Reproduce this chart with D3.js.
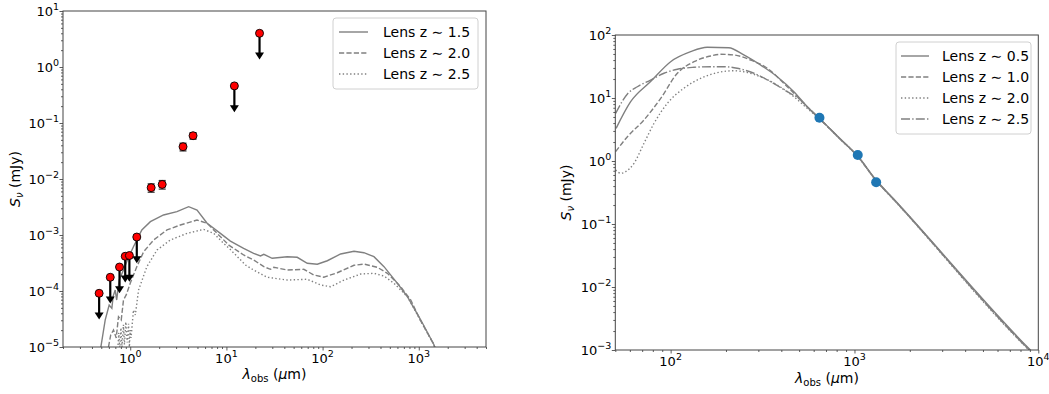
<!DOCTYPE html>
<html>
<head>
<meta charset="utf-8">
<script src="https://cdn.jsdelivr.net/npm/d3@7"></script>
<style>
  body { margin: 0; background: #fff; }
  svg text { font-family: "DejaVu Sans", sans-serif; }
</style>
</head>
<body>
<svg id="chart" width="1049" height="394"></svg>
<script>
// ---------- Left panel: optical/IR SED of the lens candidates + photometry ----------
// model SEDs [wavelength (um), flux (mJy)]
const sedLensZ15 = [
  [0.495,1.0e-5],[0.549,3.03e-5],[0.604,5.6e-5],[0.644,4.9e-5],[0.665,8.1e-5],[0.698,1.04e-4],
  [0.723,6.9e-5],[0.768,1.57e-4],[0.851,2.37e-4],[0.953,3.88e-4],[1.08,6.18e-4],[1.32,1.23e-3],
  [1.62,1.73e-3],[2.22,2.28e-3],[3.06,2.61e-3],[4.05,3.2e-3],[4.95,2.79e-3],[6.3,1.62e-3],
  [8.66,1.07e-3],[11.0,7.8e-4],[15.1,5.78e-4],[19.2,4.71e-4],[22.6,4.22e-4],[24.5,4.52e-4],
  [29.9,3.84e-4],[42.9,4.1e-4],[54.5,4.0e-4],[69.3,3.13e-4],[88.1,3.0e-4],[112,3.47e-4],
  [154,4.58e-4],[212,5.12e-4],[269,4.83e-4],[342,4.1e-4],[435,2.72e-4],[600,1.37e-4],
  [762,7.9e-5],[1050,3.03e-5],[1443,1.09e-5],[1520,8e-6]
];
const sedLensZ20 = [
  [0.594,1.0e-5],[0.627,1.64e-5],[0.670,2.01e-5],[0.715,1.45e-5],[0.755,3.48e-5],[0.806,3.03e-5],
  [0.851,6.9e-5],[0.908,8.5e-5],[1.0,1.37e-4],[1.17,2.72e-4],[1.38,5.03e-4],[1.75,8.14e-4],
  [2.41,1.23e-3],[3.32,1.51e-3],[4.95,1.85e-3],[6.3,1.62e-3],[8.0,1.07e-3],[10.6,6.6e-4],
  [15.1,4.4e-4],[19.2,3.58e-4],[24.5,2.72e-4],[28.7,2.44e-4],[31.1,2.65e-4],[42.9,2.37e-4],
  [63.8,2.44e-4],[81.2,1.93e-4],[103,1.76e-4],[142,2.12e-4],[212,2.88e-4],[269,3.03e-4],
  [371,2.65e-4],[472,2.07e-4],[649,1.19e-4],[826,6.9e-5],[1050,2.9e-5],[1443,1.09e-5],[1520,8e-6]
];
const sedLensZ25 = [
  [0.74,8e-6],[0.76,1.8e-5],[0.78,9e-6],[0.80,2.2e-5],[0.82,1.0e-5],[0.85,2.5e-5],[0.87,1.1e-5],
  [0.90,2.8e-5],[0.93,1.2e-5],[0.96,2.6e-5],[0.98,1.0e-5],[1.0,2.0e-5],[1.02,1.45e-5],
  [1.08,4.58e-5],[1.13,3.73e-5],[1.22,1.04e-4],[1.49,2.72e-4],[1.90,5.4e-4],[2.61,8.14e-4],
  [3.90,1.07e-3],[5.80,1.26e-3],[7.38,1.07e-3],[9.37,7.1e-4],[11.0,5.5e-4],[15.8,2.91e-4],
  [19.2,2.37e-4],[26.5,1.76e-4],[42.9,1.57e-4],[69.3,1.62e-4],[95.3,1.28e-4],[121,1.19e-4],
  [167,1.57e-4],[249,2.01e-4],[342,2.07e-4],[435,1.85e-4],[553,1.37e-4],[762,7.9e-5],
  [1050,2.9e-5],[1443,1.09e-5],[1520,8e-6]
];

// photometry
const photLambda = [0.475, 0.62, 0.774, 0.887, 0.98, 1.17, 1.65, 2.15, 3.54, 4.5, 12.1, 22.1];
const photFlux   = [9.1e-5, 1.76e-4, 2.68e-4, 4.17e-4, 4.3e-4, 9.2e-4, 7.0e-3, 8.0e-3, 0.0377, 0.0593, 0.46, 4.0];
const photErr    = [0, 0, 0, 0, 0, 0, 1.2e-3, 1.4e-3, 6.0e-3, 8.0e-3, 0, 0];
const photUpper  = [true, true, true, true, true, true, false, false, false, false, true, true];

const leftLegend = ["Lens z ~ 1.5", "Lens z ~ 2.0", "Lens z ~ 2.5"];

// ---------- Right panel: far-IR/mm SED + sub-mm detections ----------
const firLensZ05 = [
  [50.5,3.3],[60.6,8.73],[77.8,18.2],[100,37.7],[128.5,54.3],[158,63.8],[207,62.8],[250,48.2],
  [308,33.4],[380,21.8],[468,12.6],[553,7.28],[645.7,4.73],[818,2.40],[1042,1.20],[1312,0.499],
  [1636,0.249],[9057,1.0e-3],[10000,7.5e-4]
];
const firLensZ10 = [
  [50.2,1.41],[58.2,2.43],[71.6,4.48],[88.3,9.88],[108.8,24.7],[134,37.7],[165,46.4],[187,49.4],
  [221,48.2],[272,40.1],[336,29.6],[413,17.1],[509,9.3],[645.7,4.68],[818,2.37],[1042,1.18],
  [1312,0.49],[1636,0.245],[9057,9.7e-4],[10000,7.3e-4]
];
const firLensZ20 = [
  [50.2,0.72],[53.5,0.638],[56.9,0.676],[63.2,0.919],[71.6,1.91],[81.2,3.96],[96,8.24],[118,14.3],
  [145.6,20.5],[179,25.2],[221,27.1],[250,26.1],[308,21.8],[380,16.1],[468,10.5],[553,6.87],
  [645.7,4.65],[818,2.35],[1042,1.17],[1312,0.485],[1636,0.242],[9057,9.5e-4],[10000,7.2e-4]
];
const firLensZ25 = [
  [50.2,5.71],[58.2,11.6],[65.9,15.1],[77.8,19.3],[92,24.7],[108.8,28.6],[134,30.7],[165,31.4],
  [195,31.4],[230,29.6],[284,24.7],[349,18.2],[431,12.6],[509,9.3],[553,7.2],[645.7,4.7],
  [818,2.38],[1042,1.19],[1312,0.49],[1636,0.244],[9057,9.6e-4],[10000,7.2e-4]
];
const submmLambda = [645, 1042, 1312];
const submmFlux   = [4.86, 1.245, 0.459];

const rightLegend = ["Lens z ~ 0.5", "Lens z ~ 1.0", "Lens z ~ 2.0", "Lens z ~ 2.5"];

// ---------- drawing ----------
const svg = d3.select("#chart");
const LINE = "#808080";
const LW = 1.4;
const dashes = { solid: null, dashed: "5.2,2.2", dotted: "1.4,2.3", dashdot: "9,2.2,1.4,2.2" };

function minorTicks(domain) {
  const lo = Math.floor(Math.log10(domain[0])), hi = Math.ceil(Math.log10(domain[1]));
  const out = [];
  for (let k = lo; k < hi; k++) {
    for (let m = 2; m <= 9; m++) {
      const v = m * Math.pow(10, k);
      if (v >= domain[0] * 0.999 && v <= domain[1] * 1.001) out.push(v);
    }
  }
  return out;
}

function powLabel(g, x, y, e, anchor) {
  const t = g.append("text").attr("x", x).attr("y", y)
    .attr("text-anchor", anchor).attr("font-size", 13).attr("fill", "#000");
  t.append("tspan").text("10");
  t.append("tspan").attr("dy", -6).attr("font-size", 9.5)
    .text(e < 0 ? "\u2212" + (-e) : String(e));
}

function panel(id, x, y, xExps, yExps) {
  const [x0, x1] = x.range();
  const [y1, y0] = y.range();
  const g = svg.append("g").attr("id", id);

  g.append("clipPath").attr("id", id + "-clip")
    .append("rect").attr("x", x0).attr("y", y0).attr("width", x1 - x0).attr("height", y1 - y0);

  // axes: major + minor ticks
  const xMaj = xExps.map(e => Math.pow(10, e));
  const yMaj = yExps.map(e => Math.pow(10, e));
  const ax = g.append("g").attr("class", "axes");

  ax.append("g").attr("transform", `translate(0,${y1})`)
    .call(d3.axisBottom(x).tickValues(xMaj).tickSize(3.5).tickFormat(""));
  ax.append("g").attr("transform", `translate(0,${y1})`)
    .call(d3.axisBottom(x).tickValues(minorTicks(x.domain())).tickSize(2).tickFormat(""));
  ax.append("g").attr("transform", `translate(${x0},0)`)
    .call(d3.axisLeft(y).tickValues(yMaj).tickSize(3.5).tickFormat(""));
  ax.append("g").attr("transform", `translate(${x0},0)`)
    .call(d3.axisLeft(y).tickValues(minorTicks(y.domain())).tickSize(2).tickFormat(""));
  ax.selectAll(".domain").remove();
  ax.selectAll(".tick line").attr("stroke", "#333").attr("stroke-width", 0.8);

  xExps.forEach(e => powLabel(g, x(Math.pow(10, e)), y1 + 16, e, "middle"));
  yExps.forEach(e => powLabel(g, x0 - 4, y(Math.pow(10, e)) + 5, e, "end"));

  const plot = g.append("g").attr("clip-path", `url(#${id}-clip)`);
  return { g, plot, frame: () => g.append("rect").attr("x", x0).attr("y", y0)
      .attr("width", x1 - x0).attr("height", y1 - y0)
      .attr("fill", "none").attr("stroke", "#444").attr("stroke-width", 1) };
}

function drawCurve(plot, data, x, y, style, curve) {
  const line = d3.line().x(d => x(d[0])).y(d => y(d[1])).curve(curve || d3.curveLinear);
  plot.append("path").datum(data).attr("d", line)
    .attr("fill", "none").attr("stroke", LINE).attr("stroke-width", LW)
    .attr("stroke-dasharray", dashes[style]);
}

function legend(g, x, y, w, rowH, labels, styles, sampleX0, sampleX1, textX) {
  g.append("rect").attr("x", x).attr("y", y).attr("width", w).attr("height", rowH * labels.length + 8)
    .attr("rx", 3).attr("fill", "#fff").attr("fill-opacity", 0.8)
    .attr("stroke", "#d0d0d0").attr("stroke-width", 1);
  labels.forEach((lab, i) => {
    const cy = y + 14 + i * rowH;
    g.append("line").attr("x1", sampleX0).attr("x2", sampleX1).attr("y1", cy).attr("y2", cy)
      .attr("stroke", LINE).attr("stroke-width", LW).attr("stroke-dasharray", dashes[styles[i]]);
    const parts = lab.split("~");
    const t = g.append("text").attr("x", textX).attr("y", cy + 5).attr("font-size", 14).attr("fill", "#000");
    t.append("tspan").text(parts[0]);
    t.append("tspan").text("\u223C");
    t.append("tspan").text(parts[1]);
  });
}

function yLabel(g, cx, cy) {
  const t = g.append("text").attr("transform", `translate(${cx},${cy}) rotate(-90)`)
    .attr("text-anchor", "middle").attr("font-size", 14).attr("fill", "#000");
  t.append("tspan").attr("font-style", "italic").text("S");
  t.append("tspan").attr("font-style", "italic").attr("font-size", 10).attr("dy", 3).text("\u03BD");
  t.append("tspan").attr("dy", -3).text(" (mJy)");
}

function xLabel(g, cx, cy) {
  const t = g.append("text").attr("x", cx).attr("y", cy)
    .attr("text-anchor", "middle").attr("font-size", 14).attr("fill", "#000");
  t.append("tspan").attr("font-style", "italic").text("\u03BB");
  t.append("tspan").attr("font-size", 10).attr("dy", 3).text("obs");
  t.append("tspan").attr("dy", -3).text(" (");
  t.append("tspan").attr("font-style", "italic").text("\u03BC");
  t.append("tspan").text("m)");
}

// ----- left panel -----
const lx = d3.scaleLog().domain([0.2, 5000]).range([63, 486]);
const ly = d3.scaleLog().domain([1e-5, 10]).range([347, 11]);
const L = panel("left", lx, ly, [0, 1, 2, 3], [-5, -4, -3, -2, -1, 0, 1]);

drawCurve(L.plot, sedLensZ15, lx, ly, "solid");
drawCurve(L.plot, sedLensZ20, lx, ly, "dashed");
drawCurve(L.plot, sedLensZ25, lx, ly, "dotted");

const phot = photLambda.map((w, i) => ({ w, f: photFlux[i], e: photErr[i], up: photUpper[i] }));
phot.forEach(p => {
  const px = lx(p.w);
  if (p.up) {
    const yEnd = ly(p.f / 2.5);
    L.plot.append("line").attr("x1", px).attr("x2", px).attr("y1", ly(p.f)).attr("y2", yEnd - 2)
      .attr("stroke", "#000").attr("stroke-width", 2.2);
    L.plot.append("path")
      .attr("d", `M${px - 4.5},${yEnd - 3}L${px + 4.5},${yEnd - 3}L${px},${yEnd + 4}Z`)
      .attr("fill", "#000");
  } else if (p.e > 0) {
    const yt = ly(p.f + p.e), yb = ly(p.f - p.e);
    L.plot.append("line").attr("x1", px).attr("x2", px).attr("y1", yt).attr("y2", yb)
      .attr("stroke", "#333").attr("stroke-width", 1.2);
    [yt, yb].forEach(yy => L.plot.append("line").attr("x1", px - 3.5).attr("x2", px + 3.5)
      .attr("y1", yy).attr("y2", yy).attr("stroke", "#333").attr("stroke-width", 1.2));
  }
});
L.plot.selectAll("circle.phot").data(phot).enter().append("circle").attr("class", "phot")
  .attr("cx", d => lx(d.w)).attr("cy", d => ly(d.f)).attr("r", 4)
  .attr("fill", "#ff0000").attr("stroke", "#000").attr("stroke-width", 0.9);
L.frame();
legend(L.g, 333, 18, 145, 21, leftLegend, ["solid", "dashed", "dotted"], 339, 368, 383);
yLabel(L.g, 20, 179);
xLabel(L.g, 274.5, 379);

// ----- right panel -----
const rx = d3.scaleLog().domain([50, 1e4]).range([615.3, 1038.3]);
const ry = d3.scaleLog().domain([1e-3, 1e2]).range([350, 35]);
const R = panel("right", rx, ry, [2, 3, 4], [-3, -2, -1, 0, 1, 2]);

drawCurve(R.plot, firLensZ05, rx, ry, "solid", d3.curveMonotoneX);
drawCurve(R.plot, firLensZ10, rx, ry, "dashed", d3.curveMonotoneX);
drawCurve(R.plot, firLensZ20, rx, ry, "dotted", d3.curveMonotoneX);
drawCurve(R.plot, firLensZ25, rx, ry, "dashdot", d3.curveMonotoneX);

R.plot.selectAll("circle.submm").data(submmLambda.map((w, i) => [w, submmFlux[i]]))
  .enter().append("circle").attr("class", "submm")
  .attr("cx", d => rx(d[0])).attr("cy", d => ry(d[1])).attr("r", 5)
  .attr("fill", "#1f77b4");
R.frame();
legend(R.g, 896, 42, 135, 21, rightLegend, ["solid", "dashed", "dotted", "dashdot"], 901, 929, 942);
yLabel(R.g, 571, 192.5);
xLabel(R.g, 827, 383);
</script>
</body>
</html>
